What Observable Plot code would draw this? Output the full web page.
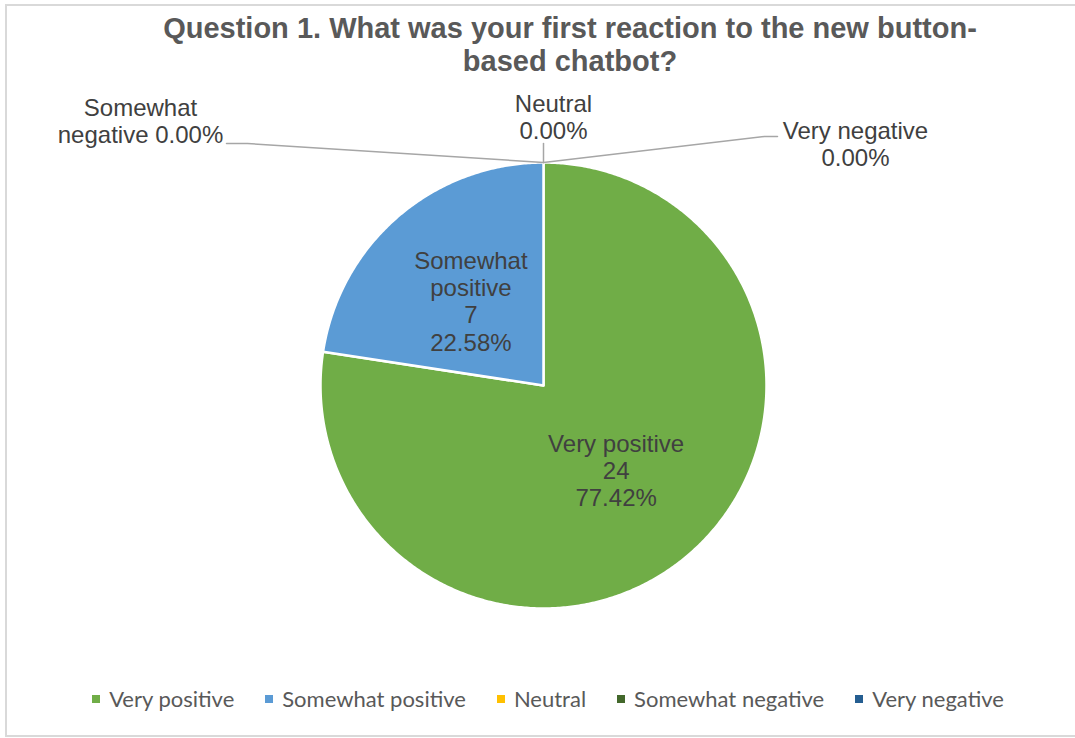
<!DOCTYPE html>
<html>
<head>
<meta charset="utf-8">
<script src="https://cdn.jsdelivr.net/npm/d3@7"></script>
<script src="https://cdn.jsdelivr.net/npm/@observablehq/plot@0.6"></script>
<style>
  body { margin: 0; background: #fff; }
  #chart { position: relative; width: 1075px; height: 738px; overflow: hidden;
           font-family: "Liberation Sans", Arial, sans-serif; }
  #frame { position: absolute; left: 5px; top: 4px; width: 1090px; height: 733px;
           border: 2px solid #d9d9d9; box-sizing: border-box; pointer-events: none; }
  #title { height: 85px; box-sizing: border-box; padding-top: 12px; padding-left: 65px;
           text-align: center; font-weight: bold; font-size: 29px; line-height: 33px; color: #595959; }
  #plot svg { display: block; }
  #legend { height: 37px; box-sizing: border-box; padding-top: 11px; padding-left: 21px;
            display: flex; justify-content: center; align-items: flex-start; gap: 31px;
            font-family: Lato, "Noto Sans", sans-serif; font-size: 22px; line-height: 26px; color: #595959; }
  .item { display: flex; align-items: center; white-space: nowrap; height: 26px; }
  .sw { width: 8px; height: 8px; margin-right: 9px; }
</style>
</head>
<body>
<div id="chart">
  <div id="title"></div>
  <div id="plot"></div>
  <div id="legend"></div>
  <div id="frame"></div>
</div>
<script>
// ---- data ----
const titleLines = ["Question 1. What was your first reaction to the new button-", "based chatbot?"];
const categories = ["Very positive", "Somewhat positive", "Neutral", "Somewhat negative", "Very negative"];
const counts = [24, 7, 0, 0, 0];
const colors = ["#70AD47", "#5B9BD5", "#FFC000", "#43682B", "#255E91"];

// ---- layout (pixels) ----
const W = 1075, H = 590, top0 = 85;
const cx = 543, cy = 385, r = 223;
// callout placement for zero-size slices: label centre and leader line bend points
const callouts = {
  "Neutral":           {lx: 553, ly: 116,   path: [[543, 143]]},
  "Somewhat negative": {lx: 140, ly: 120.5, path: [[247, 143], [226, 143]]},
  "Very negative":     {lx: 855, ly: 143,   path: [[764, 136], [777, 136]]}
};

const total = d3.sum(counts);
const fmtPct = d3.format(".2%");
const rows = categories.map((name, i) => ({name, count: counts[i], pct: fmtPct(counts[i] / total)}));
const arcs = d3.pie().sort(null).value(d => d.count)(rows);

const polar = (a, rr) => ({x: cx + rr * Math.sin(a), y: cy - rr * Math.cos(a)});

// slice polygons
const slicePts = [];
arcs.forEach(p => {
  const span = p.endAngle - p.startAngle;
  if (span <= 0) return;
  const n = Math.max(2, Math.ceil(span / (Math.PI / 360)));
  slicePts.push({name: p.data.name, x: cx, y: cy});
  for (let i = 0; i <= n; i++) {
    const pt = polar(p.startAngle + span * i / n, r);
    slicePts.push({name: p.data.name, ...pt});
  }
  slicePts.push({name: p.data.name, x: cx, y: cy});
});

// inside labels
const inside = arcs.filter(p => p.endAngle > p.startAngle).map(p => {
  const mid = (p.startAngle + p.endAngle) / 2;
  const share = p.data.count / total;
  const name = share < 0.5 ? p.data.name.replace(" ", "\n") : p.data.name;
  return {...polar(mid, r / 2), text: `${name}\n${p.data.count}\n${p.data.pct}`};
});

// outside labels + leaders for zero slices
const outside = [], leaders = [];
arcs.filter(p => p.endAngle === p.startAngle).forEach(p => {
  const c = callouts[p.data.name];
  if (!c) return;
  const start = polar(p.startAngle, r);
  const words = p.data.name.split(" ");
  const text = p.data.name === "Somewhat negative"
    ? `${words[0]}\n${words[1]} ${p.data.pct}` : `${p.data.name}\n${p.data.pct}`;
  outside.push({x: c.lx, y: c.ly, text});
  leaders.push({name: p.data.name, ...start});
  c.path.forEach(([x, y]) => leaders.push({name: p.data.name, x, y}));
});

const plot = Plot.plot({
  width: W, height: H,
  marginTop: 0, marginRight: 0, marginBottom: 0, marginLeft: 0,
  x: {domain: [0, W], range: [0, W], axis: null},
  y: {domain: [top0, top0 + H], range: [0, H], axis: null},
  color: {domain: categories, range: colors},
  style: {fontFamily: '"Liberation Sans", Arial, sans-serif', background: "transparent"},
  marks: [
    Plot.line(slicePts, {x: "x", y: "y", z: "name", fill: "name", stroke: "white", strokeWidth: 2.5, strokeLinejoin: "round", curve: "linear"}),
    Plot.line(leaders, {x: "x", y: "y", z: "name", stroke: "#A6A6A6", strokeWidth: 1.5, curve: "linear"}),
    Plot.text(inside, {x: "x", y: "y", text: "text", fontSize: 24, lineHeight: 1.14, fill: "#404040"}),
    Plot.text(outside, {x: "x", y: "y", text: "text", textAnchor: "middle", fontSize: 24, lineHeight: 1.14, fill: "#404040"})
  ]
});
document.getElementById("plot").appendChild(plot);

document.getElementById("title").innerHTML = titleLines.join("<br>");
const legend = document.getElementById("legend");
categories.forEach((c, i) => {
  const it = document.createElement("div");
  it.className = "item";
  const sw = document.createElement("span");
  sw.className = "sw";
  sw.style.background = colors[i];
  it.appendChild(sw);
  it.appendChild(document.createTextNode(c));
  legend.appendChild(it);
});
</script>
</body>
</html>
